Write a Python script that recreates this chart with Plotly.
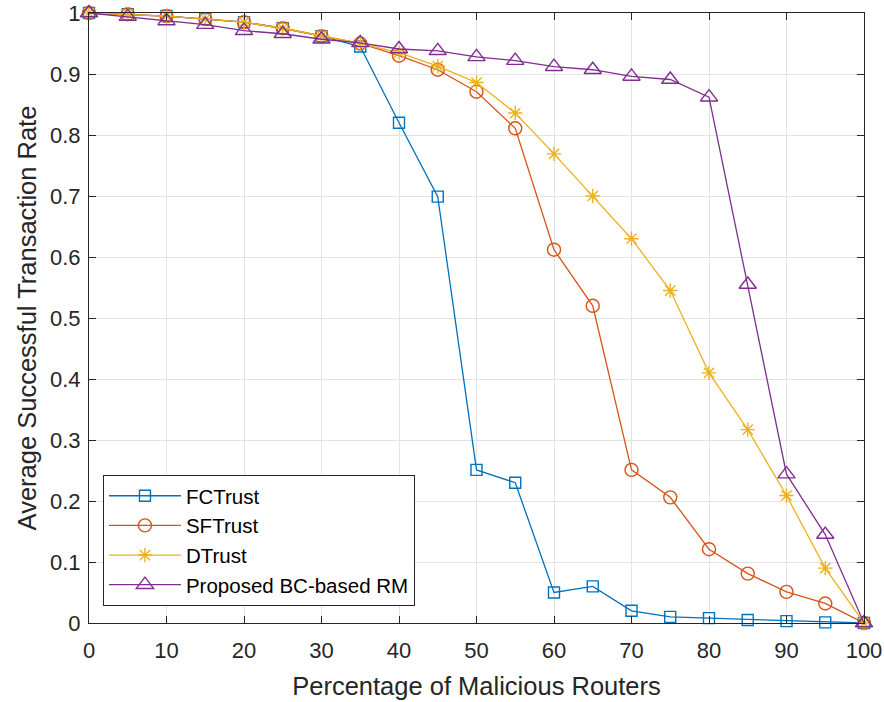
import plotly.graph_objects as go

x_vals = [0, 5, 10, 15, 20, 25, 30, 35, 40, 45, 50, 55, 60, 65, 70, 75, 80, 85, 90, 95, 100]

fctrust = [1.0, 0.998, 0.995, 0.99, 0.985, 0.975, 0.962, 0.945, 0.82, 0.699, 0.251, 0.23,
           0.05, 0.06, 0.02, 0.01, 0.008, 0.005, 0.003, 0.001, 0.0]
sftrust = [1.0, 0.998, 0.995, 0.99, 0.985, 0.975, 0.962, 0.95, 0.93, 0.907, 0.871, 0.811,
           0.612, 0.52, 0.251, 0.206, 0.121, 0.081, 0.051, 0.032, 0.0]
dtrust = [1.0, 0.998, 0.995, 0.99, 0.985, 0.975, 0.962, 0.95, 0.935, 0.913, 0.886, 0.836,
          0.769, 0.70, 0.63, 0.545, 0.41, 0.317, 0.209, 0.09, 0.0]
proposed = [1.0, 0.994, 0.987, 0.981, 0.971, 0.966, 0.957, 0.951, 0.941, 0.938, 0.928, 0.922,
            0.912, 0.907, 0.896, 0.891, 0.862, 0.555, 0.244, 0.145, 0.0]

series_names = ["FCTrust", "SFTrust", "DTrust", "Proposed BC-based RM"]
series_values = [fctrust, sftrust, dtrust, proposed]
colors = ["#0072BD", "#D95319", "#EDB120", "#7E2F8E"]
symbols = ["square-open", "circle-open", "asterisk-open", "triangle-up-open"]
sizes = [11, 13, 12, 15]

x_ticks = list(range(0, 101, 10))
y_ticks = [0, 0.1, 0.2, 0.3, 0.4, 0.5, 0.6, 0.7, 0.8, 0.9, 1]
y_tick_labels = ["0", "0.1", "0.2", "0.3", "0.4", "0.5", "0.6", "0.7", "0.8", "0.9", "1"]

fig = go.Figure()
for name, vals, c, s, sz in zip(series_names, series_values, colors, symbols, sizes):
    fig.add_trace(go.Scatter(
        x=x_vals, y=vals, name=name, mode="lines+markers",
        line=dict(color=c, width=1.3),
        marker=dict(symbol=s, size=sz, color=c, line=dict(color=c, width=1.4)),
        cliponaxis=False,
    ))

axis_common = dict(
    showgrid=True, gridcolor="#e3e3e3", gridwidth=1,
    showline=True, linecolor="#262626", linewidth=1,
    mirror="ticks", ticks="inside", ticklen=7, tickcolor="#262626",
    tickfont=dict(family="Liberation Sans, Arial, sans-serif", size=22, color="#262626"),
    zeroline=False, automargin=False,
)

fig.update_layout(
    width=884, height=702,
    margin=dict(l=89, r=20, t=13, b=79),
    paper_bgcolor="white", plot_bgcolor="white",
    font=dict(family="Liberation Sans, Arial, sans-serif", color="#262626"),
    xaxis=dict(range=[0, 100], tickvals=x_ticks, ticklabelstandoff=8,
               title=dict(text="Percentage of Malicious Routers",
                          font=dict(size=25.5, color="#262626"), standoff=14),
               **axis_common),
    yaxis=dict(range=[0, 1], tickvals=y_ticks, ticktext=y_tick_labels, ticklabelstandoff=3,
               title=dict(text="Average Successful Transaction Rate",
                          font=dict(size=25.5, color="#262626"), standoff=6),
               **axis_common),
    legend=dict(x=0.018, y=0.028, xanchor="left", yanchor="bottom",
                bgcolor="white", bordercolor="#262626", borderwidth=1,
                font=dict(size=20.5, color="#000000"), itemwidth=72,
                tracegroupgap=0),
    showlegend=True,
)

fig.write_html("out.html", config={"displayModeBar": False},
               post_script="document.body.style.margin='0';")
